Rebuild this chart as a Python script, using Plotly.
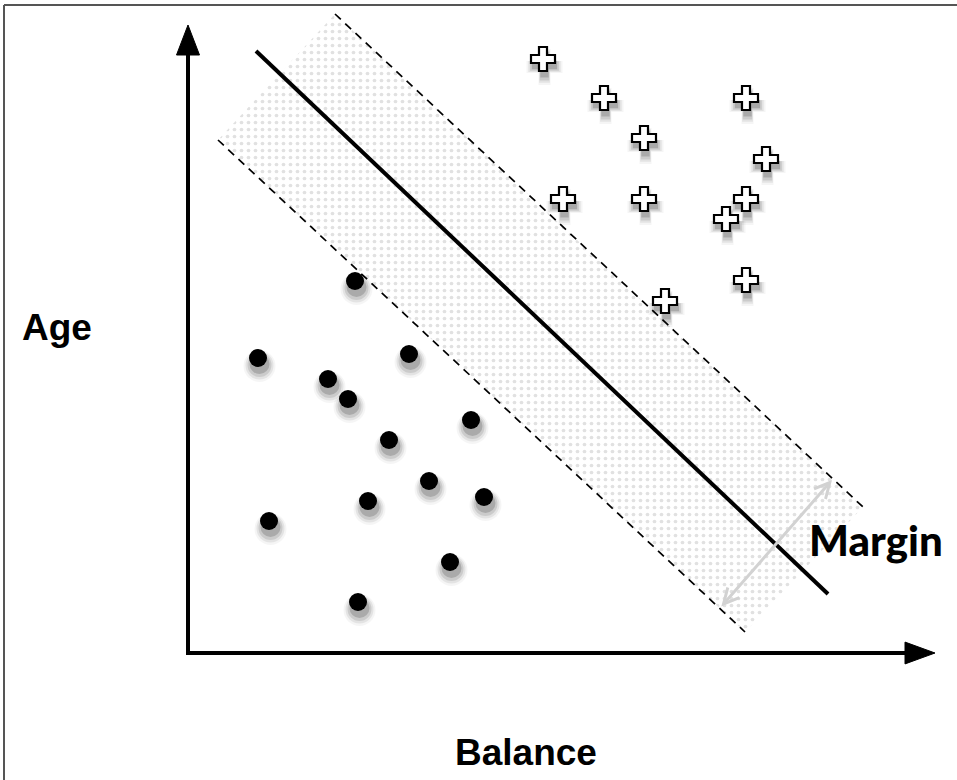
import plotly.graph_objects as go

# ---- data (units: axis corner = origin) ----
neg_x = [16.7, 7.0, 22.1, 14.0, 16.0, 28.3, 20.1, 24.1, 18.0, 29.6, 8.1, 26.2, 17.0]
neg_y = [37.2, 29.5, 29.9, 27.4, 25.4, 23.3, 21.3, 17.2, 15.2, 15.6, 13.2, 9.1, 5.1]

pos_x = [35.5, 41.6, 55.8, 45.6, 57.8, 37.5, 45.6, 55.8, 53.8, 55.8, 47.7]
pos_y = [59.4, 55.5, 55.5, 51.5, 49.4, 45.4, 45.4, 45.4, 43.4, 37.3, 35.2]

hyper_x = [6.8, 64.0]
hyper_y = [60.2, 5.9]
upper_x = [14.7, 67.5]
upper_y = [63.9, 14.6]
lower_x = [3.0, 55.7]
lower_y = [51.3, 2.1]

margin_start = (53.2, 4.5)
margin_end = (64.4, 17.3)

x_axis_end = 74.7
y_axis_end = 62.8
head_len = 3.0
head_half = 1.15

X_RANGE = [-18.8, 76.9]
Y_RANGE = [-12.7, 65.3]

fig = go.Figure()

# margin band (dotted pattern)
fig.add_trace(go.Scatter(
    x=[upper_x[0], upper_x[1], lower_x[1], lower_x[0], upper_x[0]],
    y=[upper_y[0], upper_y[1], lower_y[1], lower_y[0], upper_y[0]],
    mode="lines", line=dict(width=0, color="rgba(0,0,0,0)"),
    fill="toself", fillcolor="rgba(255,255,255,0)",
    fillpattern=dict(shape=".", fgcolor="#c4c4c4", bgcolor="rgba(255,255,255,0)",
                     size=7, solidity=0.22),
    hoverinfo="skip"))

# dashed margin lines
for xs, ys in [(upper_x, upper_y), (lower_x, lower_y)]:
    fig.add_trace(go.Scatter(x=xs, y=ys, mode="lines",
                             line=dict(color="black", width=1.7, dash="8px,6px"),
                             hoverinfo="skip"))

# hyperplane
fig.add_trace(go.Scatter(x=hyper_x, y=hyper_y, mode="lines",
                         line=dict(color="black", width=4), hoverinfo="skip"))

# axes lines
fig.add_trace(go.Scatter(x=[0, 0, x_axis_end - head_len], y=[y_axis_end - head_len, 0, 0],
                         mode="lines", line=dict(color="black", width=4), hoverinfo="skip"))
# arrow heads
fig.add_trace(go.Scatter(
    x=[x_axis_end - head_len, x_axis_end, x_axis_end - head_len, x_axis_end - head_len],
    y=[head_half * 0.95, 0, -head_half * 0.95, head_half * 0.95],
    mode="lines", fill="toself", fillcolor="black", line=dict(color="black", width=1),
    hoverinfo="skip"))
fig.add_trace(go.Scatter(
    x=[-head_half, 0, head_half, -head_half],
    y=[y_axis_end - head_len, y_axis_end, y_axis_end - head_len, y_axis_end - head_len],
    mode="lines", fill="toself", fillcolor="black", line=dict(color="black", width=1),
    hoverinfo="skip"))

# shadows (layered soft grey)
def shadow(xs, ys, symbol, sizes_alphas):
    for size, alpha, dy in sizes_alphas:
        fig.add_trace(go.Scatter(
            x=[v + 0.15 for v in xs], y=[v - dy for v in ys], mode="markers",
            marker=dict(symbol=symbol, size=size, color=f"rgba(0,0,0,{alpha})",
                        line=dict(width=0)),
            hoverinfo="skip"))

shadow(neg_x, neg_y, "circle",
       [(32, 0.04, 0.8), (28, 0.07, 0.75), (24, 0.10, 0.7), (20, 0.16, 0.6)])
shadow(pos_x, pos_y, "cross",
       [(30, 0.04, 0.8), (27, 0.07, 0.75), (24, 0.10, 0.7), (21, 0.16, 0.6)])

# negative class dots
fig.add_trace(go.Scatter(x=neg_x, y=neg_y, mode="markers",
                         marker=dict(symbol="circle", size=18, color="black",
                                     line=dict(width=0)),
                         hoverinfo="skip"))
# positive class crosses
fig.add_trace(go.Scatter(x=pos_x, y=pos_y, mode="markers",
                         marker=dict(symbol="cross", size=20, color="white",
                                     line=dict(width=2.2, color="black")),
                         hoverinfo="skip"))

annotations = [
    dict(x=margin_end[0], y=margin_end[1], ax=margin_start[0], ay=margin_start[1],
         xref="x", yref="y", axref="x", ayref="y", text="", showarrow=True,
         arrowhead=5, startarrowhead=5, arrowside="end+start", arrowsize=1,
         arrowwidth=3, arrowcolor="#d2d2d2", standoff=0, startstandoff=0),
    dict(x=(57 - 188) / 10, y=(653 - 327) / 10, xref="x", yref="y", text="Age",
         showarrow=False, xanchor="center", yanchor="middle",
         font=dict(family="Liberation Sans, Arial", size=37, color="black", weight="bold")),
    dict(x=(526 - 188) / 10, y=(653 - 752) / 10, xref="x", yref="y", text="Balance",
         showarrow=False, xanchor="center", yanchor="middle",
         font=dict(family="Liberation Sans, Arial", size=37, color="black", weight="bold")),
    dict(x=(876 - 188) / 10, y=(653 - 540) / 10, xref="x", yref="y", text="Margin",
         showarrow=False, xanchor="center", yanchor="middle",
         font=dict(family="Lato Black, Lato, Noto Sans", size=42, color="black", weight=900)),
]

shapes = [
    dict(type="line", xref="paper", yref="paper", x0=4 / 957, x1=1, y0=1 - 5 / 780, y1=1 - 5 / 780,
         line=dict(color="#555555", width=2)),
    dict(type="line", xref="paper", yref="paper", x0=4 / 957, x1=4 / 957, y0=0, y1=1 - 5 / 780,
         line=dict(color="#555555", width=2)),
]

fig.update_layout(
    width=957, height=780,
    margin=dict(l=0, r=0, t=0, b=0),
    paper_bgcolor="white", plot_bgcolor="white",
    showlegend=False,
    xaxis=dict(range=X_RANGE, visible=False, fixedrange=True),
    yaxis=dict(range=Y_RANGE, visible=False, fixedrange=True),
    annotations=annotations,
    shapes=shapes,
)

fig.write_html("out.html", config={"displayModeBar": False},
               post_script="document.body.style.margin='0';document.body.style.overflow='hidden';")
